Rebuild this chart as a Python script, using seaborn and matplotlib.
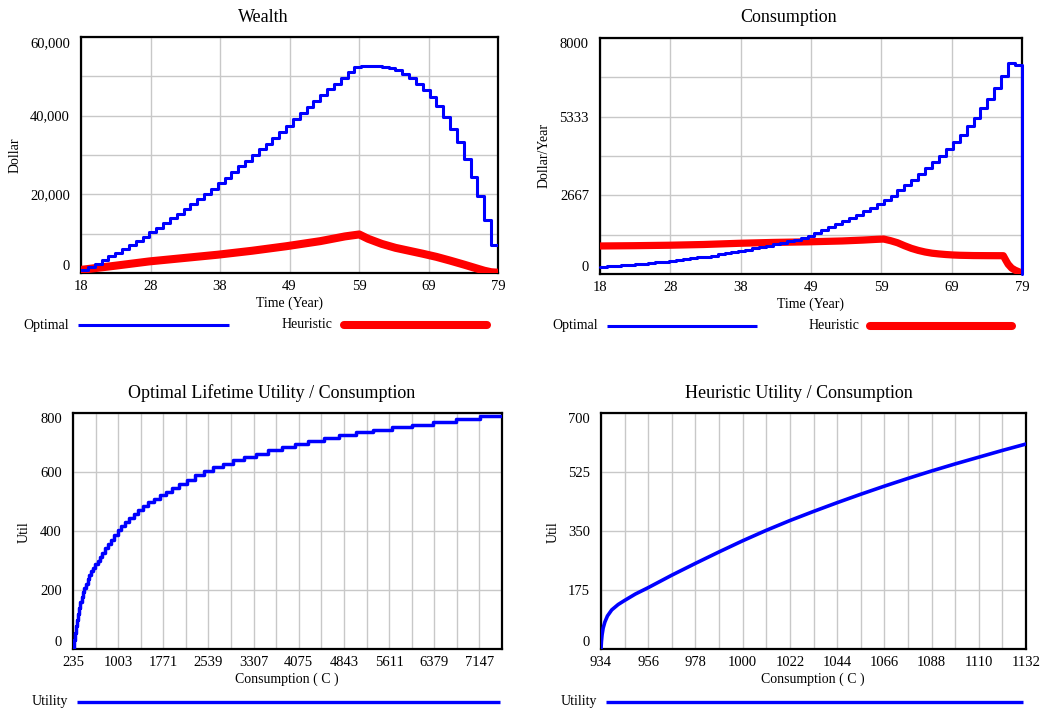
import numpy as np
import pandas as pd
import matplotlib
matplotlib.use("Agg")
import matplotlib.pyplot as plt
from matplotlib.lines import Line2D
import seaborn as sns

# ---------------- data ----------------
years = list(range(18, 80))
wealth_optimal = [800, 1500, 2400, 3300, 4250, 5200, 6200, 7200, 8200, 9250,
                  10300, 11500, 12700, 13900, 15100, 16300, 17550, 18800, 20050, 21400,
                  22800, 24200, 25650, 27100, 28550, 30000, 31450, 32900, 34400, 35900,
                  37440, 39140, 40660, 42100, 43630, 45320, 46760, 48120, 49560, 51000,
                  52350, 52520, 52540, 52520, 52270, 52000, 51500, 50700, 49600, 48120,
                  46590, 44730, 42360, 39650, 36680, 33290, 29050, 24480, 19480, 13550,
                  7020, 7020]
wealth_heur_years = [18, 23, 28, 33, 38, 43, 48, 53, 56.6, 58.7, 60, 62, 64, 66, 68,
                     70, 72, 74, 76, 77, 78, 79]
wealth_heuristic = [800, 1850, 2950, 3800, 4650, 5650, 6800, 8100, 9300, 9800, 8700,
                    7400, 6400, 5650, 4900, 4100, 3150, 2150, 1100, 580, 200, 80]

cons_optimal = [250, 265, 280, 297, 315, 333, 352, 373, 396, 420,
                445, 472, 500, 530, 560, 592, 626, 662, 700, 740,
                780, 820, 865, 910, 960, 1010, 1060, 1110, 1160, 1220,
                1300, 1400, 1500, 1610, 1700, 1780, 1890, 2010, 2120, 2230,
                2380, 2520, 2660, 2860, 3030, 3200, 3400, 3590, 3810, 4010,
                4240, 4460, 4720, 5010, 5290, 5630, 5940, 6310, 6710, 7140,
                7070, 0]
cons_heur_years = [18, 23, 28, 33, 38, 43, 48, 53, 56, 58, 59, 60, 61, 62, 63, 64, 65,
                   66, 67, 68, 69, 70, 72, 74, 76.3, 76.7, 77, 77.5, 78, 78.5, 79]
cons_heuristic = [950, 960, 975, 1000, 1040, 1070, 1090, 1120, 1150, 1175, 1185, 1130,
                  1060, 960, 870, 800, 745, 705, 680, 660, 645, 635, 625, 622, 620,
                  450, 330, 200, 130, 80, 20]

opt_util_C = [235, 250, 265, 281, 299, 317, 337, 358, 380, 403, 428, 455, 483, 513, 545,
              578, 614, 652, 693, 736, 781, 830, 881, 936, 994, 1055, 1121, 1190, 1264,
              1342, 1425, 1514, 1607, 1707, 1813, 1925, 2044, 2171, 2312, 2465, 2623,
              2782, 2963, 3150, 3348, 3557, 3784, 4010, 4237, 4503, 4763, 5046, 5329,
              5652, 6003, 6359, 6756, 7152, 7531]
opt_util_U = [0, 30, 55, 78, 100, 120, 140, 158, 175, 192, 208, 222, 236, 250, 263,
              276, 288, 300, 313, 327, 341, 356, 371, 387, 402, 417, 431, 445, 459,
              472, 485, 497, 509, 521, 533, 546, 559, 572, 590, 604, 616,
              628, 640, 651, 662, 673, 684, 695, 705, 715, 725, 734, 743,
              752, 761, 770, 780, 790, 790]

heur_util_C = [934, 934.2, 934.5, 935, 935.8, 937, 939, 942, 945, 950, 956, 967,
               978, 989, 1000, 1011, 1022, 1033, 1044, 1055, 1066, 1077, 1088, 1099,
               1110, 1121, 1132]
heur_util_U = [0, 22, 42, 62, 80, 98, 116, 132, 144, 163, 182, 219, 254, 288, 321,
               352, 381, 408, 434, 459, 483, 506, 528, 549, 569, 589, 608]

time_ticklabels = ["18", "28", "38", "49", "59", "69", "79"]
wealth_yticklabels = ["0", "20,000", "40,000", "60,000"]
cons_yticklabels = ["0", "2667", "5333", "8000"]
opt_util_xticklabels = ["235", "1003", "1771", "2539", "3307", "4075", "4843",
                        "5611", "6379", "7147"]
opt_util_yticklabels = ["0", "200", "400", "600", "800"]
heur_util_xticklabels = ["934", "956", "978", "1000", "1022", "1044", "1066",
                         "1088", "1110", "1132"]
heur_util_yticklabels = ["0", "175", "350", "525", "700"]

# ---------------- style ----------------
sns.set_theme(style="white")
plt.rcParams['font.family'] = ['Liberation Serif', 'DejaVu Serif']
plt.rcParams['axes.unicode_minus'] = False

W, H = 1049, 713
fig = plt.figure(figsize=(W / 100, H / 100), dpi=100)
fig.patch.set_facecolor('white')

BLUE = '#0000FF'
RED = '#FF0000'
GRID = '#c8c8c8'


def px_axes(x0, y0, x1, y1):
    return fig.add_axes([x0 / W, 1 - y1 / H, (x1 - x0) / W, (y1 - y0) / H])


def style(ax, xlim, ylim, xmaj, xmin, ymaj, ymin, xlabels, ylabels):
    ax.set_xlim(*xlim)
    ax.set_ylim(*ylim)
    ax.set_xticks(xmaj)
    ax.set_xticks(xmin, minor=True)
    ax.set_xticklabels(xlabels)
    ax.set_yticks(ymaj)
    ax.set_yticks(ymin, minor=True)
    ax.set_yticklabels(ylabels)
    ax.grid(True, which='both', color=GRID, lw=1.0)
    ax.set_axisbelow(True)
    ax.tick_params(which='both', length=0, labelsize=10.5, colors='black')
    ax.tick_params(axis='y', pad=8)
    ax.tick_params(axis='x', pad=5)
    for s in ax.spines.values():
        s.set_color('black')
        s.set_linewidth(1.6)
        s.set_visible(True)
        s.set_zorder(2.5)
    ax.set_xlabel("")
    ax.set_ylabel("")
    ylabs = ax.get_yticklabels()
    ylabs[0].set_va('bottom')
    ylabs[-1].set_va('top')
    ax.set_facecolor('white')


def ftext(x, y, s, size=10, rot=0):
    fig.text(x / W, 1 - y / H, s, ha='center', va='center', fontsize=size,
             rotation=rot, color='black')


def legline(x0, x1, y, color, lw, cap='butt'):
    fig.add_artist(Line2D([x0 / W, x1 / W], [1 - y / H, 1 - y / H], color=color, lw=lw,
                          solid_capstyle=cap, transform=fig.transFigure))


# ---- Panel 1: Wealth ----
ax1 = px_axes(81, 37, 498, 273)
sns.lineplot(x=wealth_heur_years, y=wealth_heuristic, ax=ax1, color=RED, lw=5.8,
             estimator=None, sort=False, solid_capstyle='round', solid_joinstyle='round',
             zorder=3)
sns.lineplot(x=years, y=wealth_optimal, ax=ax1, color=BLUE, lw=2.2,
             drawstyle='steps-post', estimator=None, sort=False, zorder=4)
style(ax1, (18, 79), (0, 60000), np.linspace(18, 79, 7), [], [0, 20000, 40000, 60000],
      [10000, 30000, 50000], time_ticklabels, wealth_yticklabels)
ftext(263, 17, "Wealth", 13)
ftext(289, 303, "Time (Year)", 10)
ftext(15, 155, "Dollar", 10, 90)
ftext(46, 325, "Optimal", 10)
legline(78, 229, 325, BLUE, 2.2)
ftext(307, 325, "Heuristic", 10)
legline(344, 487, 325, RED, 5.8, 'round')

# ---- Panel 2: Consumption ----
ax2 = px_axes(600, 38, 1022, 274)
sns.lineplot(x=cons_heur_years, y=cons_heuristic, ax=ax2, color=RED, lw=5.2,
             estimator=None, sort=False, solid_capstyle='round', solid_joinstyle='round',
             zorder=3)
sns.lineplot(x=years, y=cons_optimal, ax=ax2, color=BLUE, lw=2.2,
             drawstyle='steps-post', estimator=None, sort=False, zorder=4, clip_on=False)
style(ax2, (18, 79), (0, 8000), np.linspace(18, 79, 7), [],
      np.linspace(0, 8000, 4), np.linspace(0, 8000, 7), time_ticklabels, cons_yticklabels)
ftext(789, 17, "Consumption", 13)
ftext(811, 304, "Time (Year)", 10)
ftext(544, 156, "Dollar/Year", 10, 90)
ftext(575, 326, "Optimal", 10)
legline(607, 757, 326, BLUE, 2.2)
ftext(834, 326, "Heuristic", 10)
legline(870, 1012, 326, RED, 5.8, 'round')

# ---- Panel 3: Optimal Lifetime Utility / Consumption ----
ax3 = px_axes(73, 413, 502, 649)
sns.lineplot(x=opt_util_C, y=opt_util_U, ax=ax3, color=BLUE, lw=2.5,
             drawstyle='steps-post', estimator=None, sort=False, zorder=4)
x3_major = [235 + 768 * k for k in range(10)]
x3_minor = [235 + 384 + 768 * k for k in range(10)]
style(ax3, (235, 7531), (0, 800), x3_major, x3_minor, [0, 200, 400, 600, 800], [],
      opt_util_xticklabels, opt_util_yticklabels)
ftext(272, 393, "Optimal Lifetime Utility / Consumption", 13)
ftext(287, 679, "Consumption ( C )", 10)
ftext(24, 532, "Util", 10, 90)
ftext(50, 702, "Utility", 10)
legline(77, 500, 702, BLUE, 2.4)

# ---- Panel 4: Heuristic Utility / Consumption ----
ax4 = px_axes(601, 413, 1026, 649)
sns.lineplot(x=heur_util_C, y=heur_util_U, ax=ax4, color=BLUE, lw=2.6,
             estimator=None, sort=False, zorder=4)
x4_major = [934 + 22 * k for k in range(10)]
x4_minor = [945 + 22 * k for k in range(9)]
style(ax4, (934, 1132), (0, 700), x4_major, x4_minor, [0, 175, 350, 525, 700], [],
      heur_util_xticklabels, heur_util_yticklabels)
ftext(799, 393, "Heuristic Utility / Consumption", 13)
ftext(813, 679, "Consumption ( C )", 10)
ftext(553, 532, "Util", 10, 90)
ftext(579, 702, "Utility", 10)
legline(606, 1023, 702, BLUE, 2.4)

fig.savefig("out.png", dpi=100, facecolor='white')
